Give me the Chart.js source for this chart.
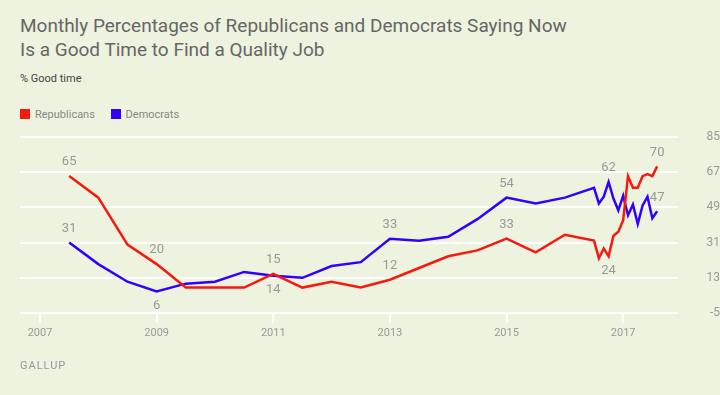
<!DOCTYPE html>
<html>
<head>
<meta charset="utf-8">
<script src="https://cdn.jsdelivr.net/npm/chart.js@4/dist/chart.umd.min.js"></script>
<style>
  html, body { margin: 0; padding: 0; background: #edf3de; }
  body { width: 720px; height: 395px; position: relative; overflow: hidden; font-family: Roboto, "Noto Sans", sans-serif; }
  #chart { position: absolute; left: 0; top: 0; }
  .title { position: absolute; left: 20px; top: 14px; font-size: 19px; line-height: 24px; color: #666; }
  .sub   { position: absolute; left: 20px; top: 72px; font-size: 11px; color: #444; }
  .legend { position: absolute; left: 20px; top: 107px; font-size: 11px; color: #888; }
  .legend span { display: inline-block; vertical-align: middle; }
  .sw { width: 10px; height: 10px; margin-right: 5px; }
  .gap { width: 13px; }
  .foot { position: absolute; left: 20px; top: 359px; font-size: 11px; color: #999; letter-spacing: 1px; }
</style>
</head>
<body>
<div class="title">Monthly Percentages of Republicans and Democrats Saying Now<br>Is a Good Time to Find a Quality Job</div>
<div class="sub">% Good time</div>
<div class="legend">
  <span class="sw" style="background:#f5190f"></span><span>Republicans</span><span class="gap"></span>
  <span class="sw" style="background:#3300ff"></span><span>Democrats</span>
</div>
<canvas id="chart" width="720" height="395"></canvas>
<div class="foot">GALLUP</div>

<script>
// ── Data ───────────────────────────────────────
// survey dates as decimal years: twice a year to mid 2016, then monthly
const dates = [
  2007.5, 2008, 2008.5, 2009, 2009.5, 2010, 2010.5, 2011, 2011.5, 2012,
  2012.5, 2013, 2013.5, 2014, 2014.5, 2015, 2015.5, 2016, 2016.5,
  2016.583, 2016.667, 2016.75, 2016.833, 2016.917, 2017, 2017.083,
  2017.167, 2017.25, 2017.333, 2017.417, 2017.5, 2017.583
];
const republicans = [
  65, 54, 30, 20, 8, 8, 8, 15, 8, 11,
  8, 12, 18, 24, 27, 33, 26, 35, 32,
  23, 28, 24, 34.5, 36.5, 42.5, 65,
  59, 59, 65, 66, 65, 70
];
const democrats = [
  31, 20, 11, 6, 10, 11, 16, 14, 13, 19,
  21, 33, 32, 34, 43, 54, 51, 54, 59,
  51, 54.5, 62, 53.5, 47.5, 55, 45,
  50.5, 40.5, 50, 54.5, 43.5, 47
];
const xTicks = [2007, 2009, 2011, 2013, 2015, 2017];
const yTicks = [-5, 13, 31, 49, 67, 85];

// point labels: dataset, index, above/below
const pointLabels = [
  [0, 0, 'up'], [0, 3, 'up'], [0, 7, 'up'], [0, 11, 'up'], [0, 15, 'up'], [0, 21, 'down'], [0, 31, 'up'],
  [1, 0, 'up'], [1, 3, 'down'], [1, 7, 'down'], [1, 11, 'up'], [1, 15, 'up'], [1, 21, 'up'], [1, 31, 'up']
];
const seriesData = [republicans, democrats];

const toPoints = vals => vals.map((v, i) => ({ x: dates[i], y: v }));

// ── Value labels plugin ────────────────────────
const labelPlugin = {
  id: 'valueLabels',
  afterDatasetsDraw(chart) {
    const ctx = chart.ctx;
    ctx.save();
    ctx.font = '13px Roboto, sans-serif';
    ctx.fillStyle = '#999';
    ctx.textAlign = 'center';
    ctx.textBaseline = 'middle';
    pointLabels.forEach(([ds, idx, pos]) => {
      const pt = chart.getDatasetMeta(ds).data[idx];
      const txt = String(Math.round(seriesData[ds][idx]));
      ctx.fillText(txt, pt.x, pos === 'up' ? pt.y - 14 : pt.y + 14);
    });
    ctx.restore();
  }
};

new Chart(document.getElementById('chart'), {
  type: 'line',
  data: {
    datasets: [
      { label: 'Republicans', data: toPoints(republicans), borderColor: '#f5190f', borderWidth: 2.5, pointRadius: 0, tension: 0 },
      { label: 'Democrats',   data: toPoints(democrats),   borderColor: '#3300ff', borderWidth: 2.5, pointRadius: 0, tension: 0 }
    ]
  },
  options: {
    responsive: false,
    animation: false,
    layout: { padding: { top: 137, left: 20, right: 0, bottom: 0 } },
    plugins: { legend: { display: false }, tooltip: { enabled: false } },
    scales: {
      x: {
        type: 'linear',
        min: 2006.657,
        max: 2017.94,
        afterBuildTicks: s => { s.ticks = xTicks.map(v => ({ value: v })); },
        afterFit: s => { s.height = 82; s.paddingLeft = 0; s.paddingRight = 0; },
        grid: { drawOnChartArea: false, drawTicks: true, tickLength: 10, color: '#fff', lineWidth: 2 },
        border: { display: false },
        ticks: { color: '#999', font: { size: 11, family: 'Roboto' }, padding: 4, maxRotation: 0, callback: v => String(v) }
      },
      y: {
        position: 'right',
        min: -5,
        max: 85,
        afterBuildTicks: s => { s.ticks = yTicks.map(v => ({ value: v })); },
        afterFit: s => { s.width = 42; s.paddingTop = 0; s.paddingBottom = 0; },
        grid: { drawTicks: false, color: '#fff', lineWidth: 2 },
        border: { display: false },
        ticks: { color: '#999', font: { size: 12, family: 'Roboto' }, padding: 9, crossAlign: 'far' }
      }
    }
  },
  plugins: [labelPlugin]
});
</script>
</body>
</html>
